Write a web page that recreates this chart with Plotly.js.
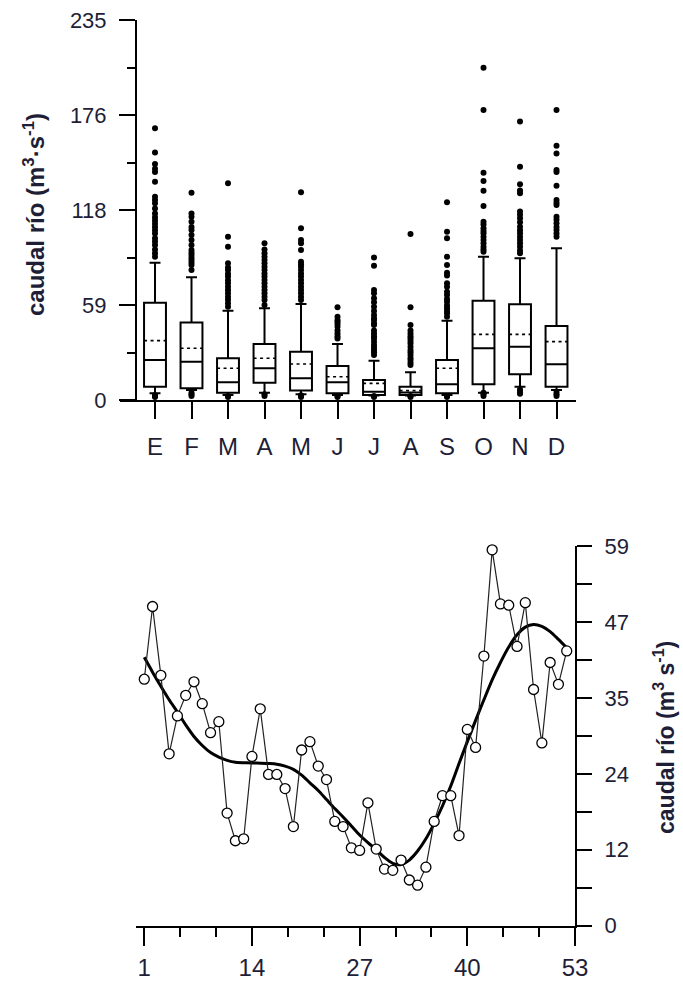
<!DOCTYPE html>
<html>
<head>
<meta charset="utf-8">
<script src="https://cdn.plot.ly/plotly-3.0.1.min.js"></script>
<style>
html,body{margin:0;padding:0;background:#fff;}
#chart{width:683px;height:987px;}
#chart path.mean{stroke-dasharray:3px,3.5px !important; stroke-width:1.6px !important;}
</style>
</head>
<body>
<div id="chart"></div>
<script>
// ---- Top chart: monthly box plots ----
var months = ['E','F','M','A','M','J','J','A','S','O','N','D'];
var monthPos = [0,1,2,3,4,5,6,7,8,9,10,11];
var q1 = [8.2, 7.2, 4.5, 10.7, 5.8, 4.1, 3.1, 3.1, 4.1, 9.7, 15.9, 8.2];
var median = [24.7, 23.7, 10.9, 19.6, 13.4, 10.9, 5.1, 4.6, 9.7, 32.0, 33.0, 22.1];
var q3 = [60.2, 48.0, 25.8, 34.6, 29.9, 21.0, 12.4, 8.2, 24.7, 61.4, 59.2, 45.8];
var meanVal = [36.7, 32.0, 19.6, 25.8, 22.3, 14.4, 10.3, 5.8, 19.6, 40.6, 40.6, 36.1];
var lowerFence = [4.1, 6.2, 3.1, 4.5, 3.5, 3.1, 2.8, 2.8, 3.1, 4.5, 8.2, 6.2];
var upperFence = [84.9, 75.9, 55.2, 56.7, 59.4, 34.6, 24.3, 17.1, 49.0, 88.6, 87.6, 93.8];
var outliers = [
  [168,153,146,143,141,135,125.7,123.7,121.6,118.5,115.4,113,111,109,107,105,103,100,98,95.8,93,90.7,88.6,3,2.5,1.8],
  [128.2,115.4,113.4,110.3,107,105.1,102,99,95.9,92.8,91,89.7,88,86.6,85,83.5,80.4,4.5,3.5,2.5],
  [134,101,94.8,84.5,82,80.4,78,76.3,74,72.2,70,68,66,63.9,62,59.8,57.7,2.5,1.8],
  [96.9,93,90.7,88.6,86.6,84.5,82.4,80.4,78.3,76.3,74.2,72.2,70.1,68,66,63.9,61.8,58.8,3.5,2.5],
  [128.4,106.2,99,96.9,92.8,85.5,84,82.4,80.4,78.3,76.3,74.2,72.2,70.1,68,66,63.9,61.8,2.5,3,1.8],
  [57.3,51.5,49.5,48.4,47,45.3,43,41.2,39.5,38.1,2.5,1.8],
  [88.2,83.1,68,66,62.9,60.5,57.7,55,52.6,50.5,49.5,47.5,46.4,43,41.2,39.5,38.1,36,34,32.5,30.9,29.5,27.8,2.5,1.8],
  [102.7,57.3,46.4,43,41.2,39.5,38.1,36.5,35,33,30.9,29.5,27.8,26,24.7,23,21.6,2.5,1.8],
  [122.3,104.1,100,88.6,83.5,78.7,77,72.2,70,67,65,62.5,60.8,58.5,56.7,55,53.6,51.5,2.5,1.8],
  [205.5,179.3,140.6,135.4,129.4,120,110.3,108.5,106.2,104.5,103.1,101,99,97,94.8,93,91.7,3.5,4.5,2.5],
  [172.3,144.3,133.4,129.5,127.8,116.5,114.5,112.4,110,107.2,105,103.1,101,99,97,94.8,92.5,90.7,5,6.5,3.8],
  [179.3,157.3,152.5,142.2,141,132.5,123.7,122,120.6,113.4,111.5,109.3,107,105.1,103,101,3.5,5,2.5]
];
var yTickVals = [0, 58.75, 117.5, 176.25, 235];
var yTickText = ['0','59','118','176','235'];
var yMinorVals = [29.375, 88.125, 146.875, 205.625];

// ---- Bottom chart: weekly flow ----
var weeks = [1,2,3,4,5,6,7,8,9,10,11,12,13,14,15,16,17,18,19,20,21,22,23,24,25,26,27,28,29,30,31,32,33,34,35,36,37,38,39,40,41,42,43,44,45,46,47,48,49,50,51,52];
var weeklyFlow = [38.3,49.6,38.9,26.7,32.6,35.8,37.9,34.5,30.0,31.7,17.5,13.2,13.5,26.3,33.7,23.5,23.5,21.3,15.4,27.3,28.6,24.8,22.7,16.2,15.4,12.1,11.7,19.1,11.9,8.8,8.6,10.2,7.1,6.3,9.1,16.2,20.2,20.2,14.0,30.5,27.7,41.9,58.4,50.0,49.8,43.4,50.2,36.7,28.4,40.9,37.5,42.7];
var fitWeeks = [1,2,3,4,5,6,7,8,9,10,11,12,14,16,17,18,19,20,21,22,23,24,25,26,27,28,29,30,31,32,33,34,35,36,37,38,39,40,41,42,43,44,45,46,47,48,49,50,51,52];
var fitFlow = [41.7,39.4,37.2,35.1,33.2,31.2,29.4,28.0,26.9,26.2,25.7,25.4,25.3,25.2,25.1,24.8,24.3,23.4,22.2,21.0,19.6,18.2,16.9,15.5,14.1,12.9,11.8,10.6,9.7,9.5,10.2,11.6,13.5,15.9,18.6,21.7,25.2,28.6,31.9,35.1,38.2,40.9,43.3,45.2,46.4,46.8,46.5,45.7,44.5,43.2];
var xTickVals2 = [1,14,27,40,53];
var yTickVals2 = [0, 11.8, 23.6, 35.4, 47.2, 59];
var yTickText2 = ['0','12','24','35','47','59'];

var W = 683, H = 987;
function px(x){ return x / W; }
function py(y){ return 1 - y / H; }

var textColor = '#1e1e36';
var fam = 'Liberation Sans, Arial, sans-serif';
var tickFont = {family: fam, size: 22, color: textColor};

var outX = [], outY = [];
outliers.forEach(function(arr, i){ arr.forEach(function(v){ outX.push(monthPos[i]); outY.push(v); }); });

var traces = [
  {
    type: 'box', x: monthPos, q1: q1, median: median, q3: q3, mean: meanVal,
    lowerfence: lowerFence, upperfence: upperFence, boxmean: true, boxpoints: false,
    width: 0.6, whiskerwidth: 0.5, fillcolor: 'rgba(255,255,255,0)',
    line: {color: '#000', width: 2}, xaxis: 'x', yaxis: 'y', hoverinfo: 'none'
  },
  {
    type: 'scatter', mode: 'markers', x: outX, y: outY, xaxis: 'x', yaxis: 'y',
    marker: {color: '#000', size: 6, symbol: 'circle'}, cliponaxis: false, hoverinfo: 'none'
  },
  {
    type: 'scatter', mode: 'lines', x: fitWeeks, y: fitFlow, xaxis: 'x2', yaxis: 'y2',
    line: {color: '#000', width: 3, shape: 'spline', smoothing: 0.8}, hoverinfo: 'none'
  },
  {
    type: 'scatter', mode: 'lines+markers', x: weeks, y: weeklyFlow, xaxis: 'x2', yaxis: 'y2',
    line: {color: '#222', width: 1.2},
    marker: {symbol: 'circle', size: 10, color: '#fff', line: {color: '#000', width: 1.3}},
    cliponaxis: false, hoverinfo: 'none'
  }
];

var layout = {
  width: W, height: H, margin: {l: 0, r: 0, t: 0, b: 0},
  paper_bgcolor: '#fff', plot_bgcolor: 'rgba(0,0,0,0)', showlegend: false,
  xaxis: {
    domain: [px(120), px(576)], range: [-0.959, 11.534], anchor: 'y',
    showline: true, linecolor: '#000', linewidth: 2, showgrid: false, zeroline: false,
    tickmode: 'array', tickvals: monthPos, ticktext: months,
    ticks: 'outside', ticklen: 17, tickwidth: 2, tickcolor: '#000',
    ticklabelstandoff: 7,
    tickfont: {family: fam, size: 24, color: textColor}
  },
  yaxis: {
    domain: [py(400), py(20)], range: [0, 235], anchor: 'free', position: px(136),
    showline: true, linecolor: '#000', linewidth: 2, showgrid: false, zeroline: false,
    tickmode: 'array', tickvals: yTickVals, ticktext: yTickText,
    ticks: 'outside', ticklen: 16, tickwidth: 2, tickcolor: '#000',
    ticklabelstandoff: 8,
    minor: {tickmode: 'array', tickvals: yMinorVals, ticks: 'outside', ticklen: 8, tickwidth: 2, tickcolor: '#000'},
    tickfont: tickFont
  },
  xaxis2: {
    domain: [px(136), px(575)], range: [0, 53], anchor: 'y2',
    showline: true, linecolor: '#000', linewidth: 2, showgrid: false, zeroline: false,
    tickmode: 'array', tickvals: xTickVals2,
    ticks: 'outside', ticklen: 18, tickwidth: 2, tickcolor: '#000',
    ticklabelstandoff: 1,
    minor: {tick0: 1, dtick: 13/3, ticks: 'outside', ticklen: 9, tickwidth: 2, tickcolor: '#000'},
    tickfont: {family: fam, size: 24, color: textColor}
  },
  yaxis2: {
    domain: [py(925.7), py(546)], range: [0, 59], anchor: 'x2', side: 'right',
    showline: true, linecolor: '#000', linewidth: 2, showgrid: false, zeroline: false,
    tickmode: 'array', tickvals: yTickVals2, ticktext: yTickText2,
    ticks: 'outside', ticklen: 15, tickwidth: 2, tickcolor: '#000',
    ticklabelstandoff: 8,
    minor: {tick0: 0, dtick: 5.9, ticks: 'outside', ticklen: 15, tickwidth: 2, tickcolor: '#000'},
    tickfont: tickFont
  },
  annotations: [
    {text: '<b>caudal río (m<sup>3</sup>·s<sup>-1</sup>)</b>', textangle: -90,
     xref: 'paper', yref: 'paper', x: px(34), y: py(215), xanchor: 'center', yanchor: 'middle',
     showarrow: false, font: {family: fam, size: 24, color: textColor}},
    {text: '<b>caudal río (m<sup>3</sup> s<sup>-1</sup>)</b>', textangle: -90,
     xref: 'paper', yref: 'paper', x: px(664), y: py(738), xanchor: 'center', yanchor: 'middle',
     showarrow: false, font: {family: fam, size: 23, color: textColor}}
  ]
};

Plotly.newPlot('chart', traces, layout, {staticPlot: true, displayModeBar: false});
</script>
</body>
</html>
